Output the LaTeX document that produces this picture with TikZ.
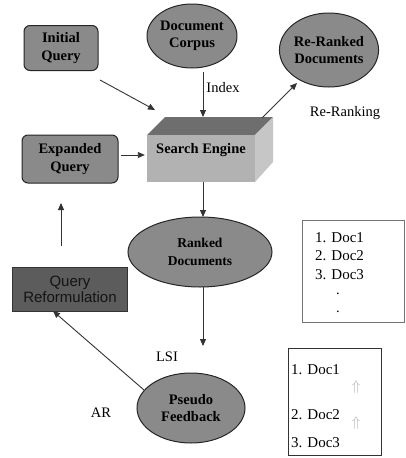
\documentclass[tikz,border=0pt]{standalone}
\usepackage{fontspec}
\setmainfont{Liberation Serif}
\newfontfamily\qrfont{Liberation Sans}
\usetikzlibrary{arrows.meta,shapes.geometric}
\definecolor{nodegray}{HTML}{8A8A8A}
\definecolor{qrgray}{HTML}{5C5C5C}
\definecolor{setop}{HTML}{6E6E6E}
\definecolor{sefront}{HTML}{B2B2B2}
\definecolor{seside}{HTML}{C6C6C6}
\definecolor{qrtext}{HTML}{141414}
\tikzset{
  rbox/.style={draw=black!85, line width=1pt, fill=nodegray, rounded corners=6pt, align=center, inner sep=0pt,
    font=\fontsize{14.5}{17.5}\selectfont\bfseries},
  ebox/.style={ellipse, draw=black!85, line width=1pt, fill=nodegray, align=center, inner sep=0pt,
    font=\fontsize{14.5}{17.5}\selectfont\bfseries},
  lbl/.style={font=\fontsize{14.5}{17}\selectfont, inner sep=0pt},
  item/.style={font=\fontsize{15}{17}\selectfont, inner sep=0pt, anchor=west},
  arr/.style={-{Triangle[length=7pt,width=6pt]}, line width=0.9pt, draw=black!80},
}
\begin{document}
\begin{tikzpicture}[x=1pt,y=-1pt]
\useasboundingbox (0,0) rectangle (406,458);
% nodes
\node[rbox, minimum width=74pt, minimum height=45pt] (iq) at (61,48) {Initial\\Query};
\node[ebox, minimum width=88pt, minimum height=64pt] (dc) at (192,36) {Document\\Corpus};
\node[ebox, minimum width=98pt, minimum height=74pt] (rr) at (329,50) {Re-Ranked\\Documents};
\node[rbox, minimum width=96pt, minimum height=48pt] (eq) at (70,159) {Expanded\\Query};
% search engine 3D box
\coordinate (fa) at (147,135);
\coordinate (fb) at (255,135);
\coordinate (fc) at (255,182);
\coordinate (fd) at (147,182);
\coordinate (ta) at (165,117);
\coordinate (tb) at (273,117);
\coordinate (sc) at (273,162);
\fill[setop] (fd) -- (fa) -- (ta) -- (tb) -- (fb) -- cycle;
\fill[seside] (fb) -- (tb) -- (sc) -- (fc) -- cycle;
\node[fill=sefront, minimum width=108pt, minimum height=47pt, inner sep=0pt] (se) at (201,158.5) {};
\node[font=\fontsize{14.5}{17}\selectfont\bfseries, inner sep=0pt] (setxt) at (201,150) {Search Engine};
\node[ebox, minimum width=144pt, minimum height=70pt, font=\fontsize{13.5}{17.5}\selectfont\bfseries] (rd) at (200,252) {Ranked\\Documents};
\node[draw=black!80, line width=1pt, fill=qrgray, minimum width=115pt, minimum height=44pt, inner sep=0pt, align=center,
  text=qrtext, font=\fontsize{15}{16}\selectfont\qrfont] (qr) at (70,289) {Query\\Reformulation};
\node[ebox, minimum width=108pt, minimum height=70pt] (pf) at (191,408) {Pseudo\\Feedback};
% labels
\node[lbl] (lidx) at (223,88) {Index};
\node[lbl] (lrr) at (345,113) {Re-Ranking};
\node[lbl] (llsi) at (167,357) {LSI};
\node[lbl] (lar) at (101,413) {AR};
% list boxes
\node[draw=black!55, line width=0.8pt, minimum width=102pt, minimum height=102pt, inner sep=0pt] (lb1) at (353,271) {};
\node[item] (a1) at (315,238) {1. Doc1};
\node[item] (a2) at (315,256) {2. Doc2};
\node[item] (a3) at (315,275) {3. Doc3};
\node[lbl] (a4) at (338,294) {.};
\node[lbl] (a5) at (338,312) {.};
\node[draw=black!80, line width=1pt, minimum width=93pt, minimum height=107pt, inner sep=0pt] (lb2) at (334.5,401.5) {};
\node[item] (b1) at (291,370) {1. Doc1};
\node[item] (b2) at (291,415) {2. Doc2};
\node[item] (b3) at (291,443) {3. Doc3};
\node[inner sep=0pt, text=black!30, font=\Large] (u1) at (356,387) {$\Uparrow$};
\node[inner sep=0pt, text=black!30, font=\Large] (u2) at (356,423) {$\Uparrow$};
% connectors
\coordinate (iqs) at (100,80);
\coordinate (iqe) at (155,110);
\draw[arr] (iqs) -- (iqe);
\coordinate (dcs) at (203,72);
\coordinate (dce) at (203,117);
\draw[arr] (dcs) -- (dce);
\coordinate (rrs) at (262,118);
\coordinate (rre) at (297,83);
\draw[arr] (rrs) -- (rre);
\draw[arr] ([xshift=2pt]eq.east |- 0,155) -- ([xshift=-2pt]se.west |- 0,155);
\draw[arr] (203,182) -- (203,217);
\coordinate (rds) at (203,287);
\coordinate (rde) at (203,346);
\draw[arr] (rds) -- (rde);
\coordinate (pfs) at (144,390);
\coordinate (pfe) at (53,311);
\draw[arr] (pfs) -- (pfe);
\coordinate (ups) at (61,246);
\coordinate (upe) at (61,203);
\draw[arr] (ups) -- (upe);
\end{tikzpicture}
\end{document}
